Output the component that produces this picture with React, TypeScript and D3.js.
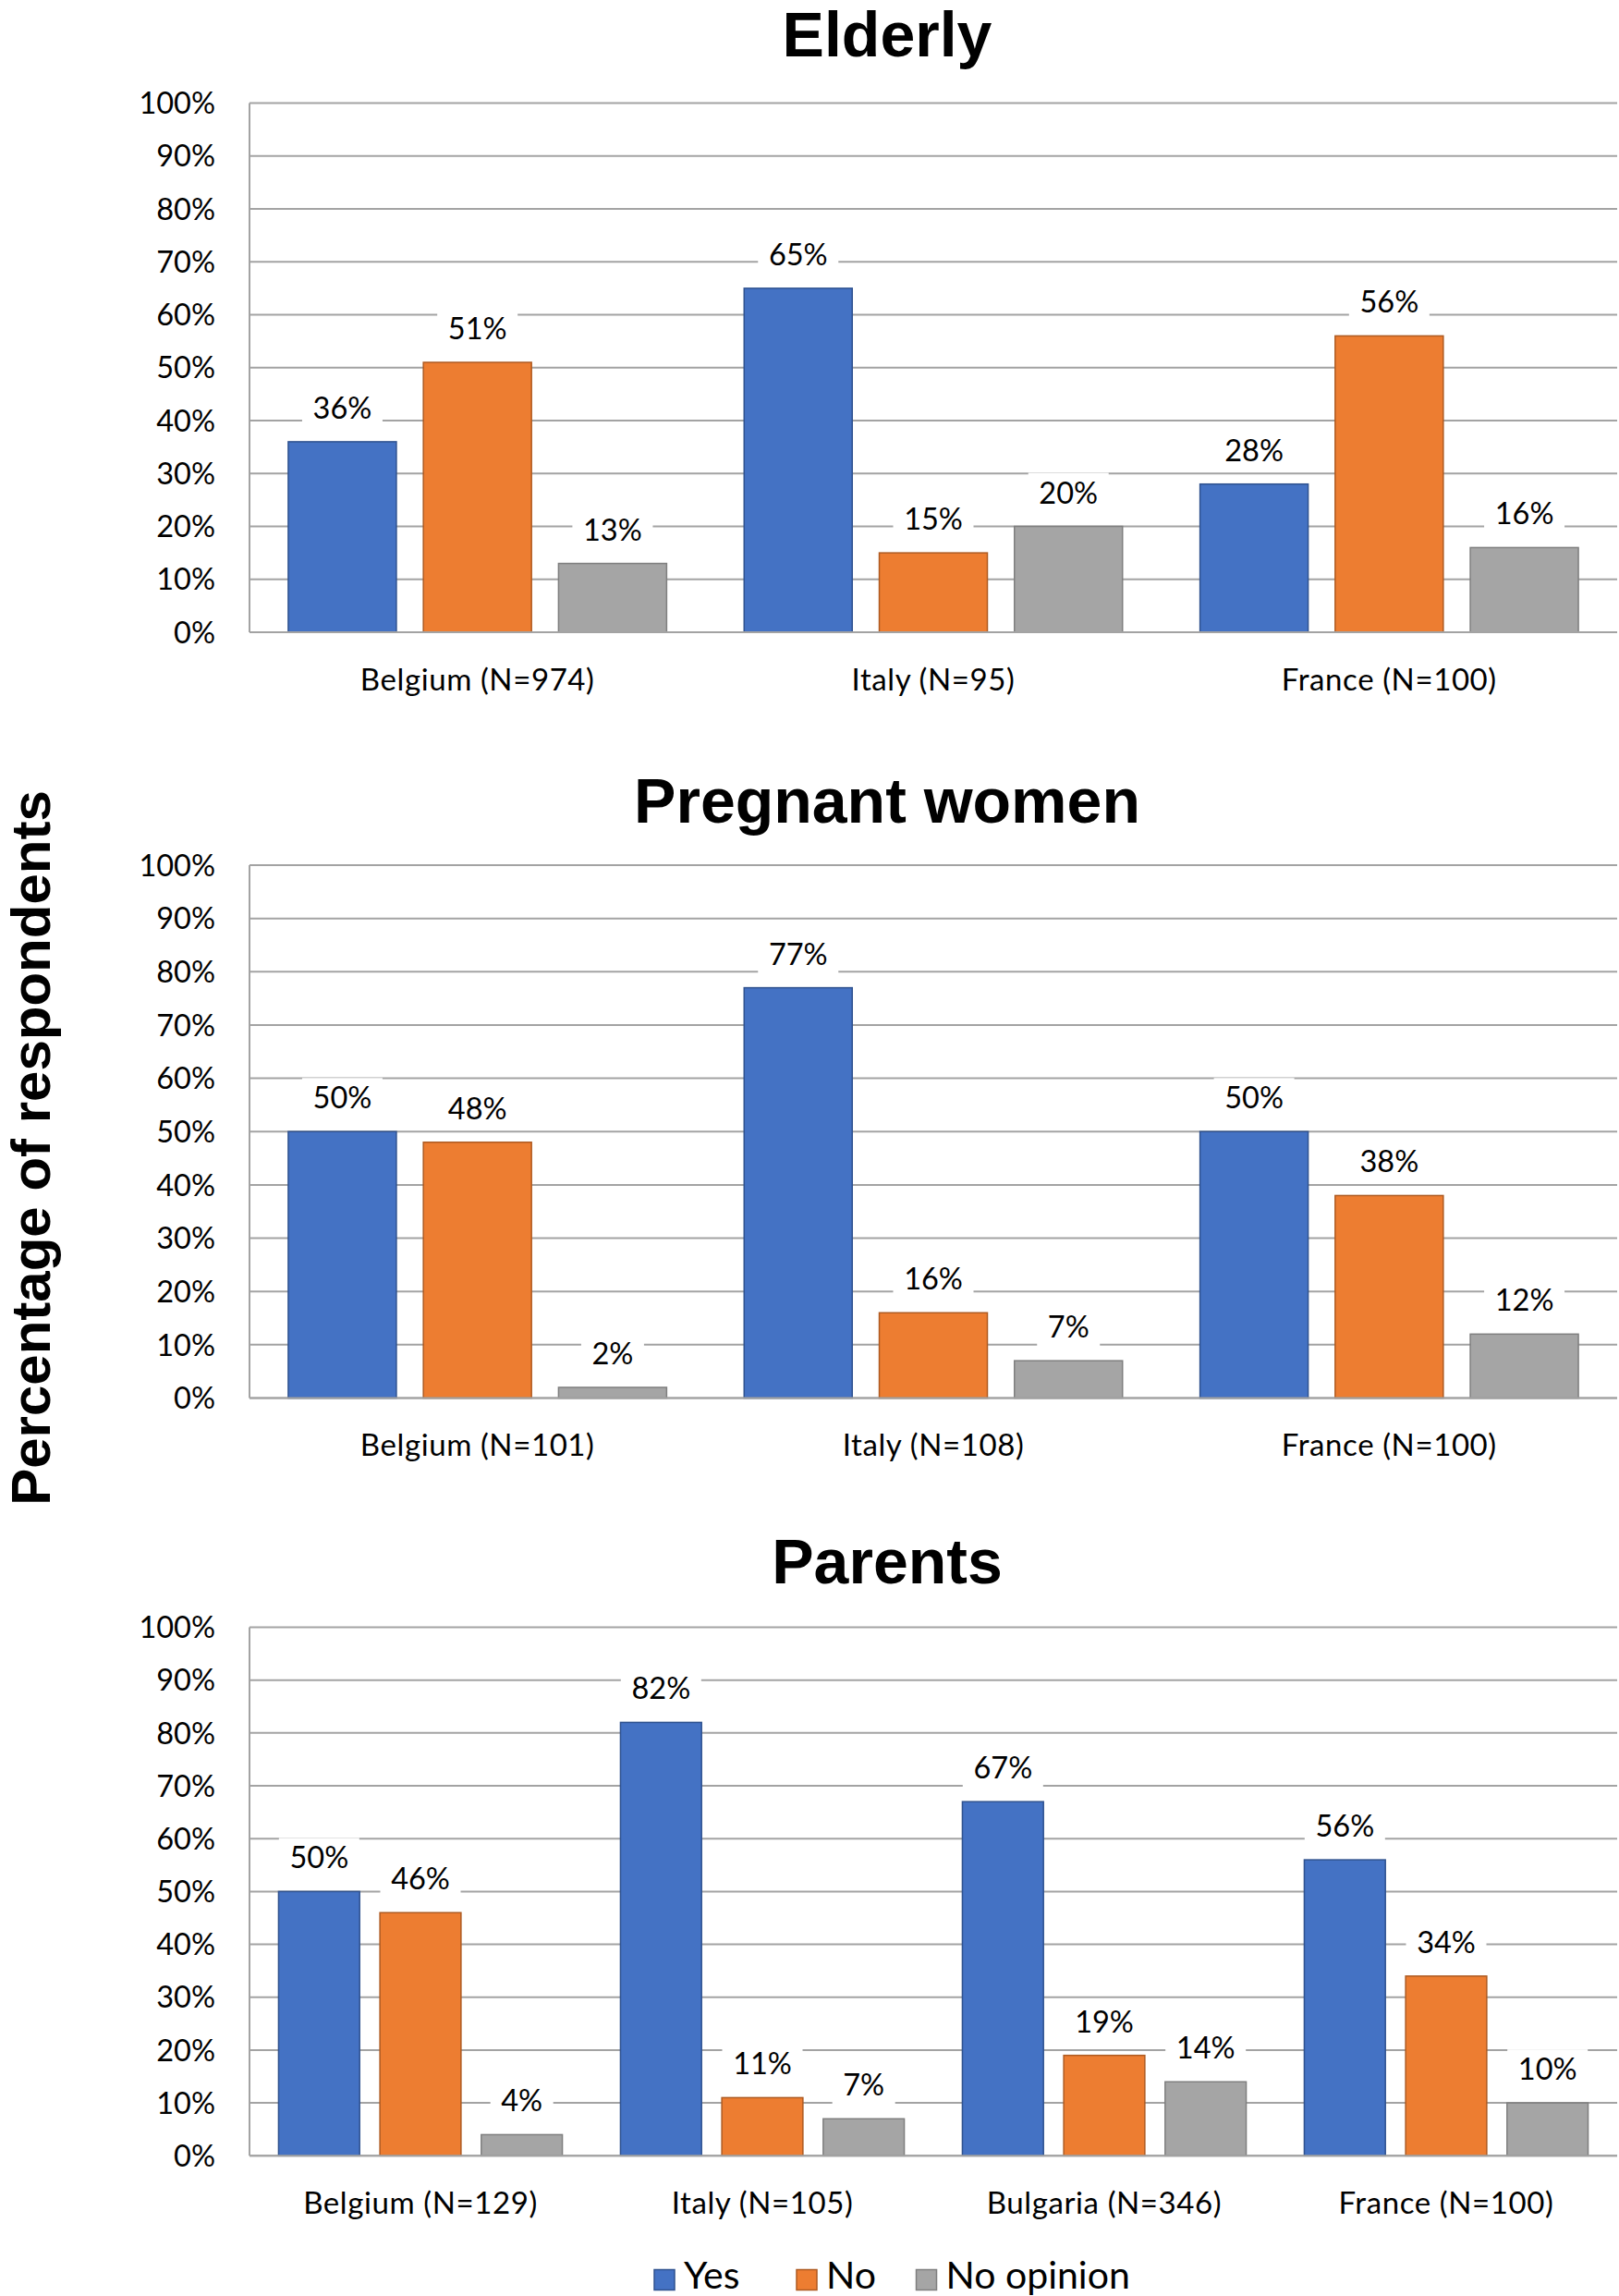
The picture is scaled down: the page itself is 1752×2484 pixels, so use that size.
import { scaleBand, scaleLinear } from 'd3';

// ── Data ──
const SERIES = ['Yes', 'No', 'No opinion'];
const Y_TICKS = [0, 10, 20, 30, 40, 50, 60, 70, 80, 90, 100];

const ELDERLY_CATS = ['Belgium (N=974)', 'Italy (N=95)', 'France (N=100)'];
const ELDERLY_YES = [36, 65, 28];
const ELDERLY_NO = [51, 15, 56];
const ELDERLY_NOOP = [13, 20, 16];

const PREGNANT_CATS = ['Belgium (N=101)', 'Italy (N=108)', 'France (N=100)'];
const PREGNANT_YES = [50, 77, 50];
const PREGNANT_NO = [48, 16, 38];
const PREGNANT_NOOP = [2, 7, 12];

const PARENTS_CATS = ['Belgium (N=129)', 'Italy (N=105)', 'Bulgaria (N=346)', 'France (N=100)'];
const PARENTS_YES = [50, 82, 67, 56];
const PARENTS_NO = [46, 11, 19, 34];
const PARENTS_NOOP = [4, 7, 14, 10];

// ── Layout / style ──
const W = 1752;
const H = 2484;
const PLOT_LEFT = 270;
const PLOT_RIGHT = 1750;
const TITLE_X = 960;

const FILL   = ['#4472C4', '#ED7D31', '#A5A5A5'];
const STROKE = ['#2F528F', '#AE5A21', '#7F7F7F'];
const GRID   = '#A3A3A3';
const BODY_FONT  = "Lato, 'Open Sans', sans-serif";
const TITLE_FONT = "'Liberation Sans', Arial, sans-serif";

const PANELS = [
  { title: 'Elderly',        titleY: 61,   y100: 111.5, y0: 684,    cats: ELDERLY_CATS,  vals: [ELDERLY_YES, ELDERLY_NO, ELDERLY_NOOP] },
  { title: 'Pregnant women', titleY: 890,  y100: 936,   y0: 1512.5, cats: PREGNANT_CATS, vals: [PREGNANT_YES, PREGNANT_NO, PREGNANT_NOOP] },
  { title: 'Parents',        titleY: 1713, y100: 1760.5, y0: 2332.3, cats: PARENTS_CATS, vals: [PARENTS_YES, PARENTS_NO, PARENTS_NOOP] },
];

const LEGEND_X = [708, 862, 991.5];
const LEGEND_Y = 2455.5;

function Panel({ p }: { p: (typeof PANELS)[number] }) {
  const x = scaleBand<string>().domain(p.cats).range([PLOT_LEFT, PLOT_RIGHT]).paddingInner(0.17).paddingOuter(0.085);
  const xs = scaleBand<string>().domain(SERIES).range([0, x.bandwidth()]).paddingInner(0.2);
  const y = scaleLinear().domain([0, 100]).range([p.y0, p.y100]);

  return (
    <g>
      <text x={TITLE_X} y={p.titleY} textAnchor="middle" fontFamily={TITLE_FONT} fontWeight="bold" fontSize={68} fill="#000">
        {p.title}
      </text>

      {/* gridlines + tick labels */}
      {Y_TICKS.map((t) => (
        <g key={t}>
          <line x1={PLOT_LEFT} x2={PLOT_RIGHT} y1={y(t)} y2={y(t)} stroke={GRID} strokeWidth={2} />
          <text x={233} y={y(t)} dy="0.36em" textAnchor="end" fontFamily={BODY_FONT} fontSize={32.5} fill="#000">
            {t}%
          </text>
        </g>
      ))}
      <line x1={PLOT_LEFT} x2={PLOT_LEFT} y1={y(100)} y2={y(0)} stroke={GRID} strokeWidth={2} />

      {/* bars */}
      {p.cats.map((c, ci) =>
        SERIES.map((s, si) => {
          const v = p.vals[si][ci];
          const bx = (x(c) ?? 0) + (xs(s) ?? 0);
          return (
            <rect
              key={`${c}-${s}`}
              x={bx}
              y={y(v)}
              width={xs.bandwidth()}
              height={y(0) - y(v)}
              fill={FILL[si]}
              stroke={STROKE[si]}
              strokeWidth={1.5}
            />
          );
        }),
      )}
      <line x1={PLOT_LEFT} x2={PLOT_RIGHT} y1={y(0)} y2={y(0)} stroke={GRID} strokeWidth={2} />

      {/* data labels */}
      {p.cats.map((c, ci) =>
        SERIES.map((s, si) => {
          const v = p.vals[si][ci];
          const cx = (x(c) ?? 0) + (xs(s) ?? 0) + xs.bandwidth() / 2;
          const by = y(v) - 25;
          const label = `${v}%`;
          const tw = label.length * 19 + 4;
          return (
            <g key={`l-${c}-${s}`}>
              <rect x={cx - tw / 2 - 13} y={by - 33} width={tw + 26} height={43} fill="#fff" />
              <text x={cx} y={by} textAnchor="middle" fontFamily={BODY_FONT} fontSize={32.5} fill="#000">
                {label}
              </text>
            </g>
          );
        }),
      )}

      {/* category labels */}
      {p.cats.map((c) => (
        <text
          key={`c-${c}`}
          x={(x(c) ?? 0) + x.bandwidth() / 2}
          y={y(0) + 62.5}
          textAnchor="middle"
          fontFamily={BODY_FONT}
          fontSize={33}
          letterSpacing={0.6}
          fill="#000"
        >
          {c}
        </text>
      ))}
    </g>
  );
}

export default function App() {
  return (
    <div style={{ position: 'absolute', left: 0, top: 0, width: W, height: H, background: '#fff' }}>
      <svg width={W} height={H} style={{ display: 'block' }}>
        <rect width={W} height={H} fill="#fff" />
        {PANELS.map((p) => (
          <Panel key={p.title} p={p} />
        ))}

        {/* y-axis title */}
        <text
          transform="translate(54, 1242) rotate(-90)"
          textAnchor="middle"
          fontFamily={TITLE_FONT}
          fontWeight="bold"
          fontSize={60}
          fill="#000"
        >
          Percentage of respondents
        </text>

        {/* legend */}
        {SERIES.map((s, i) => (
          <g key={s}>
            <rect x={LEGEND_X[i]} y={LEGEND_Y} width={22} height={22} fill={FILL[i]} stroke={STROKE[i]} strokeWidth={1.5} />
            <text x={LEGEND_X[i] + 32} y={LEGEND_Y + 20} fontFamily={BODY_FONT} fontSize={41} fill="#000">
              {s}
            </text>
          </g>
        ))}
      </svg>
    </div>
  );
}
